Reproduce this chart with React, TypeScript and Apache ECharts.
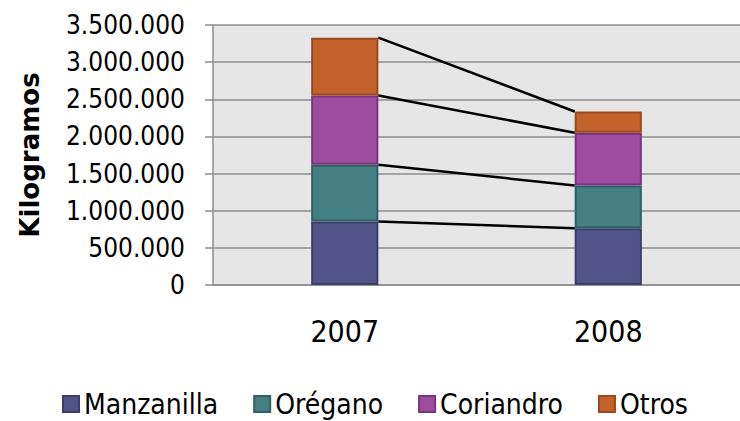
import React, { useEffect, useRef } from "react";
import * as echarts from "echarts";

const categories = ["2007", "2008"];
const seriesNames = ["Manzanilla", "Orégano", "Coriandro", "Otros"];
const manzanilla = [855000, 765000];
const oregano = [765000, 575000];
const coriandro = [930000, 710000];
const otros = [780000, 285000];
const yTicks = [0, 500000, 1000000, 1500000, 2000000, 2500000, 3000000, 3500000];

const fills = ["#535389", "#437F83", "#9E4C9F", "#C4622C"];
const borders = ["#3D3D6A", "#2F6063", "#7B3580", "#9B4A1F"];
const BAR_RATIO = 0.255;

function fmt(v: number): string {
  return String(v).replace(/\B(?=(\d{3})+(?!\d))/g, ".");
}

export default function App() {
  const ref = useRef<HTMLDivElement>(null);
  useEffect(() => {
    if (!ref.current) return;
    const chart = echarts.init(ref.current, null, { renderer: "svg" });
    const all = [manzanilla, oregano, coriandro, otros];
    const levels: number[][] = [];
    const acc = [0, 0];
    all.forEach((s) => {
      acc[0] += s[0];
      acc[1] += s[1];
      levels.push([0, acc[0], acc[1]]);
    });
    const cond = "'DejaVu Sans Condensed', 'DejaVu Sans', sans-serif";
    const option: any = {
      animation: false,
      backgroundColor: "#ffffff",
      grid: {
        left: 213,
        right: 0,
        top: 25,
        bottom: 136,
        show: true,
        backgroundColor: "#E6E6E6",
        borderWidth: 0,
      },
      legend: {
        data: seriesNames,
        left: 62,
        top: 389,
        padding: 0,
        itemWidth: 16,
        itemHeight: 16,
        itemGap: 35,
        icon: "rect",
        textStyle: { fontFamily: cond, fontSize: 28, color: "#000", lineHeight: 30 },
      },
      xAxis: {
        type: "category",
        data: categories,
        axisLine: { show: true, lineStyle: { color: "#8C8C8C", width: 1.5 } },
        axisTick: { show: false },
        axisLabel: { fontFamily: cond, fontSize: 30, color: "#000", margin: 31 },
        splitLine: { show: false },
      },
      yAxis: {
        type: "value",
        min: 0,
        max: 3500000,
        interval: 500000,
        name: "Kilogramos",
        nameLocation: "middle",
        nameGap: 170,
        nameTextStyle: {
          fontFamily: "'DejaVu Sans', sans-serif",
          fontWeight: "bold",
          fontSize: 26,
          color: "#000",
        },
        axisLine: { show: true, lineStyle: { color: "#8C8C8C", width: 1.5 } },
        axisTick: { show: true, length: 8, lineStyle: { color: "#8C8C8C", width: 1.5 } },
        axisLabel: {
          fontFamily: cond,
          fontSize: 26,
          color: "#000",
          margin: 28,
          formatter: (v: number) => (yTicks.includes(v) ? fmt(v) : ""),
        },
        splitLine: { show: true, lineStyle: { color: "#8C8C8C", width: 1.5 } },
      },
      series: [
        ...all.map((d, i) => ({
          name: seriesNames[i],
          type: "bar",
          stack: "total",
          data: d,
          barWidth: "25.5%",
          itemStyle: { color: fills[i], borderColor: borders[i], borderWidth: 2 },
        })),
        {
          name: "connectors",
          type: "custom",
          data: levels,
          encode: { x: 0, y: [1, 2] },
          z: 5,
          renderItem: (params: any, api: any) => {
            const p0 = api.coord([0, api.value(1)]);
            const p1 = api.coord([1, api.value(2)]);
            const band = api.size([1, 0])[0];
            const half = (band * BAR_RATIO) / 2;
            return {
              type: "line",
              shape: { x1: p0[0] + half, y1: p0[1], x2: p1[0] - half, y2: p1[1] },
              style: { stroke: "#000", lineWidth: 2.5 },
            };
          },
        },
      ],
    };
    chart.setOption(option);
    return () => chart.dispose();
  }, []);
  return (
    <div
      ref={ref}
      style={{ position: "fixed", left: 0, top: 0, width: 740, height: 421 }}
    />
  );
}
